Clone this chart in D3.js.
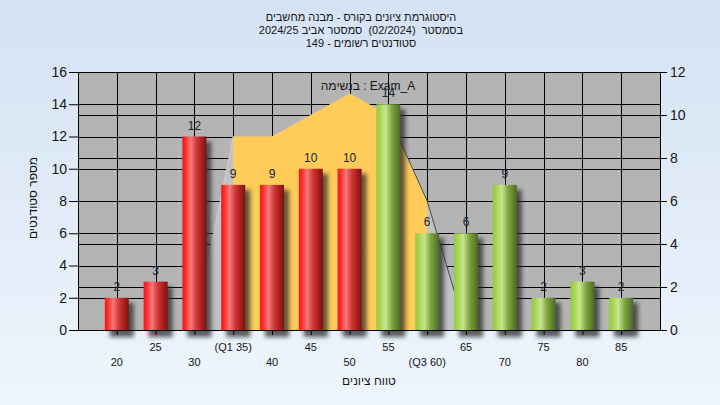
<!DOCTYPE html>
<html><head><meta charset="utf-8">
<script src="https://cdn.jsdelivr.net/npm/d3@7"></script>
<style>
html,body{margin:0;padding:0;}
body{width:720px;height:405px;overflow:hidden;}
svg{display:block;font-family:"Liberation Sans",Arial,sans-serif;}
</style></head>
<body><svg id="c" width="720" height="405"></svg>
<script>
// ---- data ----
const categories = [20,25,30,35,40,45,50,55,60,65,70,75,80,85];
const counts     = [2,3,12,9,9,10,10,14,6,6,9,2,3,2];
const examA      = [0,0,0,9,9,10,11,10,6,0,0,0,0,0];
const tickLabels = ["20","25","30","(Q1 35)","40","45","50","55","(Q3 60)","65","70","75","80","85"];
const q1 = 35, q3 = 60, passMark = 55;
const leftTicks  = [0,2,4,6,8,10,12,14,16];
const rightTicks = [0,2,4,6,8,10,12];
const titleLines = [
  "היסטוגרמת ציונים בקורס - מבנה מחשבים",
  "בסמסטר\u00A0 (02/2024)\u00A0 סמסטר אביב 2024/25",
  "סטודנטים רשומים - 149"
];
const yTitle = "מספר סטודנטים";
const xTitle = "טווח ציונים";
const seriesLabel = "בנשימה : Exam_A";

// ---- layout ----
const W = 720, H = 405;
const L = 78, R = 660, T = 72, B = 330;
const svg = d3.select("#c");
const defs = svg.append("defs");

const bg = defs.append("linearGradient").attr("id","bg").attr("x1",0).attr("y1",0).attr("x2",0).attr("y2",1);
bg.append("stop").attr("offset","0%").attr("stop-color","#d5e2f3");
bg.append("stop").attr("offset","100%").attr("stop-color","#eef5fd");

function cyl(id, stops){
  const g = defs.append("linearGradient").attr("id",id).attr("x1",0).attr("y1",0).attr("x2",1).attr("y2",0);
  stops.forEach(s=>g.append("stop").attr("offset",s[0]).attr("stop-color",s[1]));
}
cyl("red",[["0%","#f01818"],["12%","#ff2a2a"],["35%","#f57a7a"],["60%","#d03434"],["100%","#7e1010"]]);
cyl("green",[["0%","#98c840"],["15%","#a8d450"],["38%","#c6e690"],["65%","#7ea440"],["100%","#4c6a22"]]);

const f = defs.append("filter").attr("id","sh").attr("x","-50%").attr("y","-50%").attr("width","200%").attr("height","200%");
f.append("feGaussianBlur").attr("stdDeviation",2.2);

svg.append("rect").attr("width",W).attr("height",H).attr("fill","url(#bg)");

const x = d3.scaleLinear().domain([15,90]).range([L,R]);
const yL = d3.scaleLinear().domain([0,16]).range([B,T]);
const yR = d3.scaleLinear().domain([0,12]).range([B,T]);

// plot area
svg.append("rect").attr("x",L).attr("y",T).attr("width",R-L).attr("height",B-T).attr("fill","#b4b4b4");

// grid
const grid = svg.append("g").attr("stroke","#000").attr("stroke-width",1).attr("shape-rendering","crispEdges");
leftTicks.filter(v=>v>0&&v<16).forEach(v=>grid.append("line").attr("x1",L).attr("x2",R).attr("y1",Math.round(yL(v))+0.5).attr("y2",Math.round(yL(v))+0.5));
rightTicks.filter(v=>v>0&&v<12).forEach(v=>grid.append("line").attr("x1",L).attr("x2",R).attr("y1",Math.round(yR(v))+0.5).attr("y2",Math.round(yR(v))+0.5));
categories.forEach(c=>grid.append("line").attr("x1",Math.round(x(c))+0.5).attr("x2",Math.round(x(c))+0.5).attr("y1",T).attr("y2",B));

// exam A area
const pts = categories.map((c,i)=>({c, v:examA[i]}));
const area = d3.area().x(d=>x(d.c)).y0(yR(0)).y1(d=>yR(d.v));
svg.append("path").datum(pts).attr("d",area).attr("fill","#c2c2c2");
svg.append("path").datum(pts.filter(d=>d.c>=q1&&d.c<=q3)).attr("d",area).attr("fill","#ffcc5a");
const line = d3.line().x(d=>x(d.c)).y(d=>yR(d.v));
svg.append("path").datum(pts.filter(d=>d.c>=passMark&&d.c<=65)).attr("d",line).attr("fill","none").attr("stroke","#4a4a4a").attr("stroke-width",1);
svg.append("path").datum(pts.filter(d=>d.c>=30&&d.c<=q1)).attr("d",line).attr("fill","none").attr("stroke","#cfcfcf").attr("stroke-width",1);

// frame
svg.append("rect").attr("x",L+0.5).attr("y",T+0.5).attr("width",R-L).attr("height",B-T).attr("fill","none").attr("stroke","#000").attr("shape-rendering","crispEdges");

// bars
const bw = 24;
const bars = svg.append("g");
categories.forEach((c,i)=>{
  const x0 = x(c)-bw/2, y0 = yL(counts[i]);
  bars.append("rect").attr("x",x0+5).attr("y",y0+5).attr("width",bw).attr("height",B-y0+2)
    .attr("fill","#2a2a2a").attr("opacity",0.75).attr("filter","url(#sh)");
});
categories.forEach((c,i)=>{
  const x0 = x(c)-bw/2, y0 = yL(counts[i]);
  bars.append("rect").attr("x",x0).attr("y",y0).attr("width",bw).attr("height",B-y0)
    .attr("fill", c>=passMark ? "url(#green)" : "url(#red)");
});

// axes
const axL = svg.append("g").attr("transform",`translate(${L},0)`)
  .call(d3.axisLeft(yL).tickValues(leftTicks).tickSize(9).tickPadding(2).tickFormat(d3.format("d")));
const axR = svg.append("g").attr("transform",`translate(${R},0)`)
  .call(d3.axisRight(yR).tickValues(rightTicks).tickSize(7).tickPadding(3).tickFormat(d3.format("d")));
const axB = svg.append("g").attr("transform",`translate(0,${B})`)
  .call(d3.axisBottom(x).tickValues(categories).tickSize(5).tickFormat(""));
[axL,axR,axB].forEach(a=>{
  a.select(".domain").attr("stroke","#000");
  a.selectAll(".tick line").attr("stroke","#000");
  a.selectAll("text").attr("fill","#151515").style("font-family","'Liberation Sans',Arial,sans-serif");
});
axL.selectAll("text").style("font-size","14px");
axR.selectAll("text").style("font-size","14px");
axB.select(".domain").remove();
svg.append("line").attr("x1",L).attr("x2",R+2).attr("y1",B+0.5).attr("y2",B+0.5).attr("stroke","#000").attr("shape-rendering","crispEdges");

// x tick labels (two rows)
categories.forEach((c,i)=>{
  svg.append("text").attr("x",x(c)).attr("y", i%2===1 ? 351 : 366)
    .attr("text-anchor","middle").attr("font-size",11).attr("fill","#151515").text(tickLabels[i]);
});

// value labels
categories.forEach((c,i)=>{
  svg.append("text").attr("x",x(c)).attr("y",yL(counts[i])-7)
    .attr("text-anchor","middle").attr("font-size",12).attr("fill","#18222e").text(counts[i]);
});

// series label
svg.append("text").attr("x",368).attr("y",90).attr("text-anchor","middle").attr("font-size",12)
  .attr("fill","#151515").attr("direction","ltr").text(seriesLabel);

// titles (right-to-left)
titleLines.forEach((ln,i)=>{
  svg.append("text").attr("x",361).attr("y",21+i*13).attr("text-anchor","middle").attr("font-size",11)
    .attr("fill","#151515").attr("direction","rtl").attr("unicode-bidi","embed").text(ln);
});
svg.append("text").attr("x",369).attr("y",385).attr("text-anchor","middle").attr("font-size",12)
  .attr("fill","#151515").attr("direction","rtl").attr("unicode-bidi","embed").text(xTitle);
svg.append("text").attr("transform","translate(37,198) rotate(-90)").attr("text-anchor","middle").attr("font-size",12)
  .attr("fill","#151515").attr("direction","rtl").attr("unicode-bidi","embed").text(yTitle);
</script></body></html>
